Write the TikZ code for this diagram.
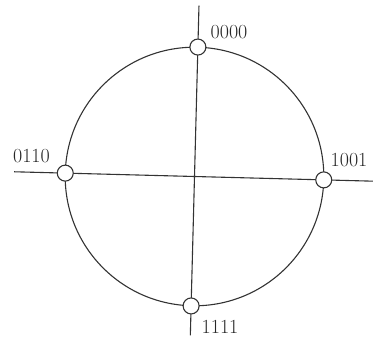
\documentclass[tikz,border=0pt]{standalone}
\usepackage{fontspec}
\begin{document}
\begin{tikzpicture}[x=1pt,y=1pt,
  ink/.style={draw=black!80, line width=1.1pt},
  vertex/.style={circle, draw=black!80, line width=1.1pt, fill=white, minimum size=16pt, inner sep=0pt},
  lbl/.style={font=\fontsize{20}{24}\selectfont, text=black!85, inner sep=0pt}]
\useasboundingbox (0,0) rectangle (373,349);
\begin{scope}[shift={(194.5,172.5)}, rotate=-1.5]
  \coordinate (vt) at (0,171);
  \coordinate (vb) at (0,-159);
  \coordinate (hl) at (-180.5,0);
  \coordinate (hr) at (180,0);
  \coordinate (ctr) at (0,0);
  \draw[ink] (ctr) circle (129.3);
  \draw[ink] (vt) -- (vb);
  \draw[ink] (hl) -- (hr);
  \node[vertex] (n0000) at (0,129.5) {};
  \node[vertex] (n1111) at (0,-129.5) {};
  \node[vertex] (n0110) at (-129.3,0) {};
  \node[vertex] (n1001) at (129.3,0) {};
\end{scope}
\node[lbl] (t0000) at (229,317) {0000};
\node[lbl] (t0110) at (31.5,192.5) {0110};
\node[lbl] (t1001) at (349,189) {1001};
\node[lbl] (t1111) at (220,22.5) {1111};
\end{tikzpicture}
\end{document}
